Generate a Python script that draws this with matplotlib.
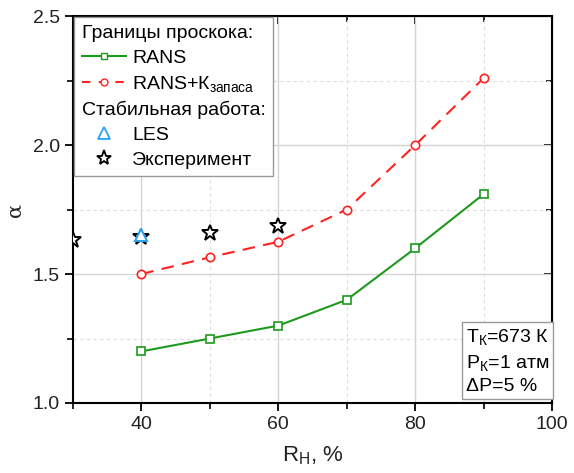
import matplotlib.pyplot as plt
from matplotlib.lines import Line2D
from matplotlib.ticker import MultipleLocator

plt.rcParams['font.family'] = ['Liberation Sans', 'DejaVu Sans']
plt.rcParams['mathtext.fontset'] = 'custom'
plt.rcParams['mathtext.rm'] = 'Liberation Sans'
plt.rcParams['mathtext.it'] = 'Liberation Sans:italic'
plt.rcParams['mathtext.default'] = 'rm'

# RANS boundaries
rh = [40, 50, 60, 70, 80, 90]
rans = [1.20, 1.25, 1.30, 1.40, 1.60, 1.81]
rans_k = [1.50, 1.565, 1.625, 1.75, 2.00, 2.26]

# stable operation
les_x = [40]
les_y = [1.65]
exp_x = [30, 40, 50, 60]
exp_y = [1.63, 1.645, 1.66, 1.685]

green = '#1c9a1c'
red = '#ff2222'
blue = '#29a3f0'

fig = plt.figure(figsize=(5.74, 4.73), dpi=100)
ax = fig.add_axes([0.127, 0.148, 0.835, 0.818])

ax.plot(rh, rans, '-', color=green, lw=1.5, marker='s', ms=6, mfc='white', mec=green, mew=1.2)
ax.plot(rh, rans_k, color=red, lw=1.5, dashes=(6, 4), marker='o', ms=6, mfc='white', mec=red, mew=1.2)
ax.plot(exp_x, exp_y, ls='none', marker='*', ms=12, mfc='white', mec='black', mew=1.4, zorder=4)
ax.plot(les_x, les_y, ls='none', marker='^', ms=9, mfc='white', mec=blue, mew=1.4, zorder=5)

ax.set_xlim(30, 100)
ax.set_ylim(1.0, 2.5)
ax.xaxis.set_major_locator(MultipleLocator(20))
ax.xaxis.set_minor_locator(MultipleLocator(10))
ax.yaxis.set_major_locator(MultipleLocator(0.5))
ax.yaxis.set_minor_locator(MultipleLocator(0.25))
ax.set_xticks([40, 60, 80, 100])

ax.grid(True, which='major', color='#d4d4d4', lw=1.0, ls='-')
ax.grid(True, which='minor', color='#dddddd', lw=0.8, ls=(0, (3, 3)))
ax.set_axisbelow(True)

for s in ax.spines.values():
    s.set_linewidth(1.5)
ax.tick_params(which='major', direction='out', length=6, width=1.3, labelsize=14,
               colors='black', labelcolor='#222222')
ax.tick_params(which='minor', direction='out', length=4, width=1.2)

top = ax.secondary_xaxis('top')
top.xaxis.set_major_locator(MultipleLocator(20))
top.xaxis.set_minor_locator(MultipleLocator(10))
top.tick_params(which='major', direction='in', length=6, width=1.3, labeltop=False)
top.tick_params(which='minor', direction='in', length=4, width=1.2)
right = ax.secondary_yaxis('right')
right.yaxis.set_major_locator(MultipleLocator(0.5))
right.yaxis.set_minor_locator(MultipleLocator(0.25))
right.tick_params(which='major', direction='in', length=6, width=1.3, labelright=False)
right.tick_params(which='minor', direction='in', length=4, width=1.2)

ax.set_xlabel(r'R$_{\mathrm{Н}}$, %', fontsize=16, color='#222222', labelpad=8)
ax.set_ylabel('α', fontsize=15, family='DejaVu Serif', color='#222222', labelpad=6)

blank = Line2D([], [], ls='none')
handles = [
    blank,
    Line2D([], [], color=green, lw=1.5, marker='s', ms=5, mfc='white', mec=green),
    Line2D([], [], color=red, lw=1.5, dashes=(4, 4), marker='o', ms=5, mfc='white', mec=red),
    blank,
    Line2D([], [], ls='none', marker='^', ms=8, mfc='white', mec=blue, mew=1.3),
    Line2D([], [], ls='none', marker='*', ms=11, mfc='white', mec='black', mew=1.3),
]
labels = ['Границы проскока:', 'RANS', r'RANS+К$_{\mathrm{запаса}}$',
          'Стабильная работа:', 'LES', 'Эксперимент']
leg = ax.legend(handles, labels, loc='upper left', fontsize=14, handlelength=2.3,
                handletextpad=0.3, borderaxespad=0.05, borderpad=0.4, labelspacing=0.36,
                fancybox=False, framealpha=1, edgecolor='#999999')
leg.get_frame().set_linewidth(1.0)

# header rows start at the left edge of the box
rows = leg._legend_handle_box.get_children()[0].get_children()
for i in (0, 3):
    rows[i].get_children()[0].width = 0
    rows[i].sep = 0

ax.text(0.993, 0.02, 'T$_{\\mathrm{К}}$=673 К\nP$_{\\mathrm{К}}$=1 атм\nΔP=5 %',
        transform=ax.transAxes, ha='right', va='bottom', multialignment='left',
        fontsize=14, linespacing=1.4,
        bbox=dict(boxstyle='square,pad=0.2', fc='white', ec='#999999', lw=1.0))

fig.savefig('out.png', dpi=100)
